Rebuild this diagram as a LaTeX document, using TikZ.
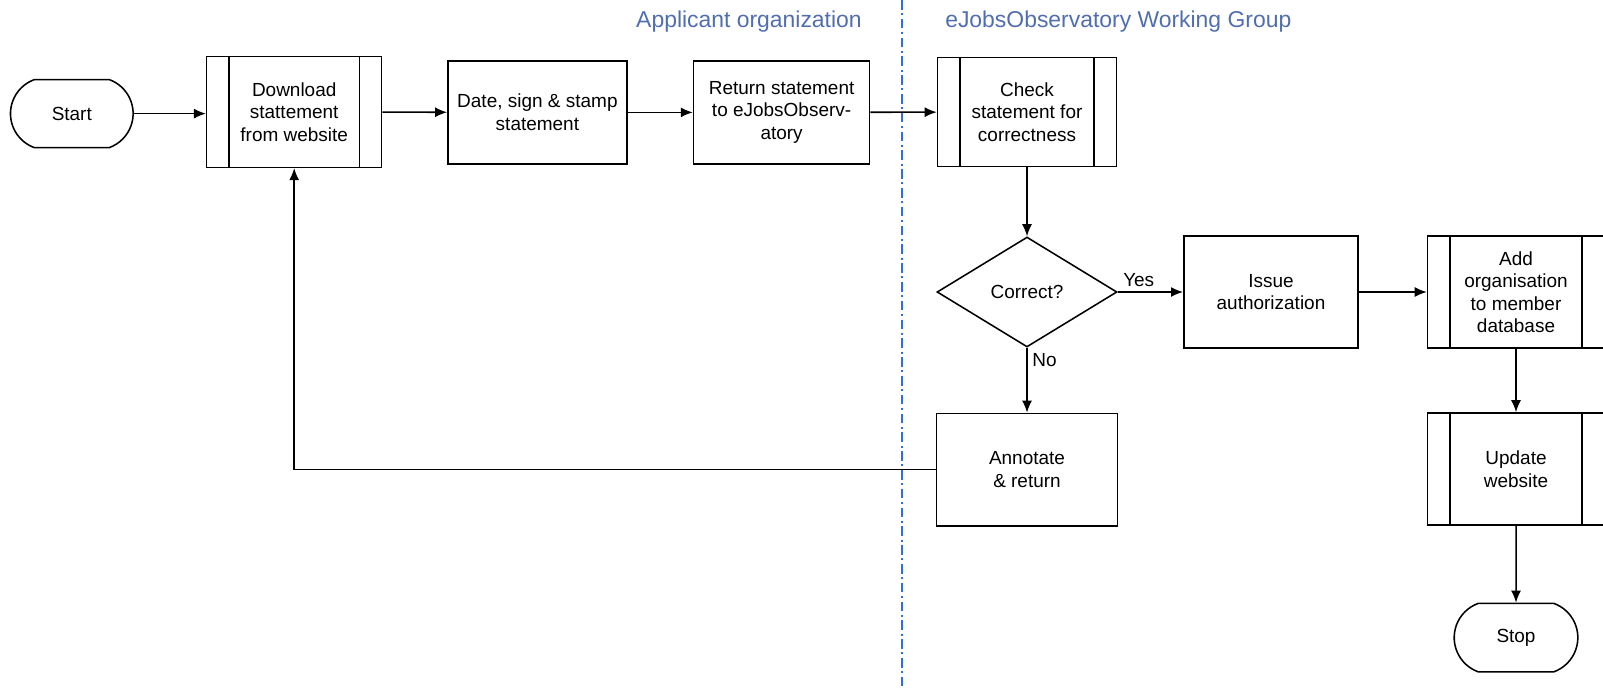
\documentclass[tikz,border=0pt]{standalone}
\usepackage{fontspec}
\setmainfont{Liberation Sans}
\usepackage{xcolor}
\usetikzlibrary{shapes.geometric,shapes.misc,arrows.meta,calc,positioning}
\definecolor{laneblue}{RGB}{50,110,215}
\definecolor{headblue}{RGB}{80,110,175}

\tikzset{
  flow/.style={draw=black, line width=1.1pt, align=center, font=\fontsize{13.5}{16}\selectfont},
  procbox/.style={flow, rectangle, minimum width=#1, minimum height=2.8cm, inner sep=1pt},
  procbox/.default=4.4cm,
  subproc/.style={procbox=#1, path picture={
      \draw[line width=1.1pt] ([xshift=0.56cm]path picture bounding box.north west) -- ([xshift=0.56cm]path picture bounding box.south west);
      \draw[line width=1.1pt] ([xshift=-0.56cm]path picture bounding box.north east) -- ([xshift=-0.56cm]path picture bounding box.south east);}},
  subproc/.default=4.4cm,
  terminal/.style={flow, rounded rectangle, rounded rectangle arc length=140, minimum width=3.3cm, minimum height=1.7cm},
  decision/.style={flow, diamond, minimum width=4.5cm, minimum height=2.75cm, inner sep=0pt},
  link/.style={line width=1.1pt, -{Latex[length=0.3cm,width=0.25cm]}},
  lanetitle/.style={text=headblue, font=\fontsize{16.3}{19}\selectfont, inner sep=0pt}
}

\begin{document}
\begin{tikzpicture}

\useasboundingbox (0,0) rectangle (40.075,-17.25);

\path
  (1.795,-2.84) coordinate (p0)
  (7.355,-2.8) coordinate (p1)
  (13.435,-2.81) coordinate (p2)
  (19.54,-2.81) coordinate (p3)
  (25.675,-2.8) coordinate (p4)
  (25.675,-7.3) coordinate (p5)
  (31.775,-7.3) coordinate (p6)
  (37.9,-7.3) coordinate (p7)
  (25.675,-11.74) coordinate (p8)
  (37.9,-11.725) coordinate (p9)
  (37.9,-15.94) coordinate (p10);

\draw[laneblue, line width=1pt, dash pattern=on 0.24cm off 0.09cm on 0.05cm off 0.09cm] (22.545,0) coordinate (laneTop) -- (22.545,-17.2) coordinate (laneBot);
\node[lanetitle, anchor=east] (titleApplicant) at (21.55,-0.55) {Applicant organization};
\node[lanetitle, anchor=west] (titleGroup) at (23.625,-0.55) {eJobsObservatory Working Group};

\node[terminal] (start) at (p0) {Start};
\node[subproc=4.375cm, minimum height=2.765cm] (download) at (p1) {Download\\stattement\\from website};
\node[procbox=4.475cm, minimum height=2.58cm] (sign) at (p2) {Date, sign \& stamp\\statement};
\node[procbox=4.4cm, minimum height=2.58cm] (send) at (p3) {Return statement\\to eJobsObserv-\\atory};
\node[subproc=4.475cm, minimum height=2.735cm] (check) at (p4) {Check\\statement for\\correctness};
\node[decision] (correct) at (p5) {Correct?};
\node[procbox=4.36cm] (issue) at (p6) {Issue\\authorization};
\node[subproc=4.425cm] (addorg) at (p7) {Add\\organisation\\to member\\database};
\node[procbox=4.525cm, minimum height=2.81cm] (annotate) at (p8) {Annotate\\\& return};
\node[subproc=4.425cm] (update) at (p9) {Update\\website};
\node[terminal, minimum width=3.325cm, minimum height=1.71cm] (stop) at (p10) {Stop};

\draw[link] (start.east) -- (start.east -| download.west);
\draw[link] (download) -- (sign);
\draw[link] (sign) -- (send);
\draw[link] (send) -- (check);
\draw[link] (check) -- (correct);
\draw[link] (correct.east) -- node[pos=0, above right, font=\fontsize{13.5}{16}\selectfont]{Yes} (issue.west);
\draw[link] (issue) -- (addorg);
\draw[link] (correct.south) -- node[pos=0, below right, font=\fontsize{13.5}{16}\selectfont]{No} (annotate.north);
\draw[link] (addorg) -- (update);
\draw[link] (update) -- (stop);
\draw[link] (annotate.west) -| (download.south);

\end{tikzpicture}
\end{document}
